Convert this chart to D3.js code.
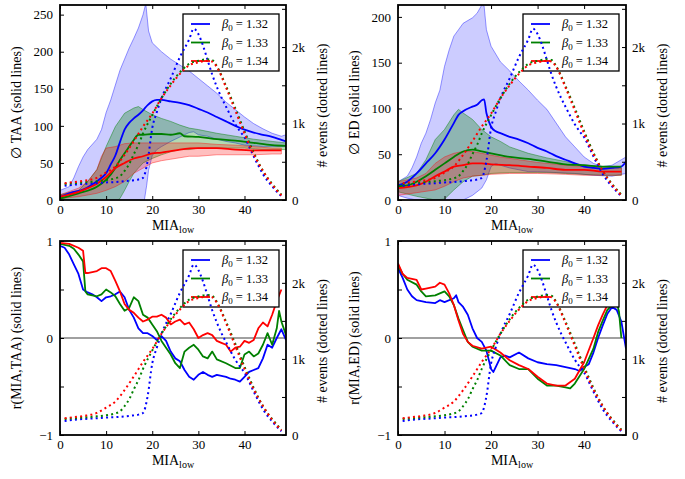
<!DOCTYPE html>
<html><head><meta charset="utf-8">
<script src="https://cdn.jsdelivr.net/npm/d3@7"></script>
<style>
body{margin:0;background:#fff}
svg{display:block}
text{font-family:"Liberation Serif","Times New Roman",serif;fill:#000}
</style>
</head><body>
<svg id="c" width="685" height="479"></svg>
<script>
// ---------- data ----------
const betaLabels = ["1.32", "1.33", "1.34"];
const seriesColors = ["#0000ff", "#008000", "#ff0000"];
const xTicks = [0, 10, 20, 30, 40];
const eventTicks = [0, 500, 1000, 1500, 2000, 2500];
const eventTickLabels = ["0", "", "1k", "", "2k", ""];
const meanTicks = { taa: [0, 50, 100, 150, 200, 250], ed: [0, 50, 100, 150, 200] };
const rTicks = [-1, -0.5, 0, 0.5, 1];
const rTickLabels = ["\u22121", "", "0", "", "1"];

// number of events per MIA_low (dotted lines, right axis)
const events132 = [[1,185],[3,200],[5,210],[8,220],[10,230],[12,235],[14,245],[16,258],[17,268],[18,290],[19,510],[20,940],[21,1150],[22,1330],[24,1590],[26,1870],[28,2100],[29,2240],[30,2170],[31,2020],[32,1830],[33,1640],[34,1480],[35,1340],[36,1220],[37,1100],[38,990],[39,900],[40,820],[41,700],[42,570],[43,450],[44,340],[45,250],[46,180],[47,110],[48,50]];
const events133 = [[1,210],[3,220],[5,230],[8,245],[10,260],[12,285],[13,310],[14,380],[15,470],[16,600],[17,720],[18,870],[20,1110],[22,1330],[24,1520],[26,1670],[28,1780],[30,1820],[32,1840],[33,1830],[34,1750],[36,1490],[38,1200],[40,900],[42,620],[44,380],[46,210],[48,70]];
const events134 = [[1,220],[3,235],[5,250],[8,290],[10,360],[12,440],[14,590],[16,770],[18,960],[20,1130],[22,1330],[24,1500],[26,1650],[28,1760],[30,1800],[32,1820],[33,1810],[34,1740],[36,1470],[38,1170],[40,870],[42,600],[44,380],[46,200],[48,60]];

// mean TAA with band
const taaMean132 = [[0,4.5],[3,11],[5,14],[7,21],[9,30],[10,36],[11,48],[12,60],[13,78],[14,95],[15,104],[16,110],[17,115],[18,121],[19,128],[20,133],[21,135],[22,135],[24,133],[26,131],[28,128],[30,123],[32,118],[34,112],[36,106],[38,100],[40,95],[42,91],[44,88],[46,85],[48,81],[49,79]];
const taaUpper132 = [[0,13],[2,18],[3,30],[4,45],[5,58],[6,68],[8,82],[9,95],[10,118],[11,135],[12,155],[13,175],[14,190],[15,205],[16,218],[17,232],[18,250],[18.6,265],[19.2,228],[20,212],[22,200],[24,190],[26,182],[28,174],[30,164],[32,154],[34,144],[36,132],[38,122],[40,112],[42,103],[44,96],[46,90],[48,86],[49,88]];
const taaLower132 = [[0,0],[18.3,0],[18.8,20],[19.2,40],[20,60],[21,68],[22,72],[24,79],[26,85],[28,91],[29,92],[30,88],[32,86],[34,82],[36,79],[38,77],[40,74],[44,72],[49,72]];
const taaMean133 = [[0,2],[4,9],[8,18],[10,27],[12,43],[13,54],[14,63],[15,72],[16,81],[17,88],[18,88],[20,89],[22,89],[24,88],[26,90],[27,86],[30,85],[34,82],[38,80],[42,77],[46,74],[49,73]];
const taaUpper133 = [[0,7],[4,13],[6,25],[8,41],[10,72],[12,99],[14,117],[16,124],[17,126],[18,122],[20,115],[22,110],[24,106],[26,101],[28,97],[30,95],[34,90],[38,86],[42,82],[46,79],[49,77]];
const taaLower133 = [[0,0],[12.5,0],[13,2],[14,13],[15,25],[16,36],[17,43],[18,50],[20,56],[22,61],[24,65],[26,68],[28,68],[30,70],[34,70],[40,70],[44,68],[49,68]];
const taaMean134 = [[0,4.5],[4,11],[6,16],[8,22],[10,31],[12,43],[14,50],[16,56],[18,59],[20,63],[22,64],[24,66],[26,68],[30,70],[34,70],[38,68],[42,67],[46,67],[48,67]];
const taaUpper134 = [[0,7],[4,16],[6,25],[8,41],[9,59],[10,70],[12,72],[14,76],[16,77],[20,77],[24,77],[30,77],[34,75],[38,74],[42,72],[46,70],[48,70]];
const taaLower134 = [[0,2],[4,4.5],[8,9],[10,13],[12,18],[14,25],[16,36],[18,43],[20,50],[22,53],[24,55],[26,57],[28,59],[30,59],[34,61],[42,61],[46,62],[48,62]];

// mean ED with band
const edMean132 = [[0,16],[2,20],[4,29],[6,40],[8,51],[10,66],[12,84],[13,93],[14,97],[16,102],[17,104],[18,109],[18.5,110],[19,95],[20,80],[21,75],[22,73],[24,69],[26,66],[28,62],[30,57],[32,53],[34,48],[36,44],[38,40],[40,36.5],[42,35],[44,34],[46,35],[48,36.5],[49,42]];
const edUpper132 = [[0,20],[2,26],[3,35],[4,47],[5,62],[6,73],[7,88],[8,106],[9,120],[10,146],[11,164],[12,179],[13,186],[14,193],[16,199],[17,204],[18,213],[18.5,212],[19,186],[20,168],[22,151],[24,141],[26,130],[28,120],[30,109],[32,99],[34,84],[36,69],[38,58],[40,47],[42,40],[44,36.5],[46,38],[48,44],[49,47]];
const edLower132 = [[0,5],[2,2],[4,0],[14,0],[16,5],[18,13],[19,22],[20,36.5],[21,40],[22,38],[24,35],[26,33],[28,31],[30,31],[34,30],[38,29],[42,27],[46,26],[49,29]];
const edMean133 = [[0,15],[2,16],[4,20],[6,26],[8,33],[10,40],[12,47],[14,53],[16,55],[18,53],[20,51],[24,47],[28,45],[32,42],[36,39],[40,38],[44,36.5],[48,36.5]];
const edUpper133 = [[0,20],[4,29],[6,44],[8,66],[10,77],[12,93],[13,99],[14,95],[16,88],[18,77],[20,69],[22,64],[24,58],[28,51],[32,46],[36,42],[40,38],[44,36.5],[48,35]];
const edLower133 = [[0,9],[4,4],[6,2],[8,0],[10,1],[12,11],[14,20],[16,26],[18,27],[20,29],[24,30],[32,30],[36,29],[40,28],[44,27],[48,27]];
const edMean134 = [[0,13],[4,16],[6,20],[8,26],[10,31],[12,36.5],[14,38],[16,40],[18,40],[20,39],[24,38],[28,36.5],[32,35],[36,33],[40,33],[44,31],[48,31]];
const edUpper134 = [[0,20],[4,24],[6,29],[8,40],[10,47],[12,51],[14,53],[16,53],[18,51],[22,47],[26,44],[30,41],[36,38],[40,36.5],[44,35],[48,35]];
const edLower134 = [[0,5],[4,8],[8,11],[10,15],[12,20],[14,24],[16,26],[20,28],[24,29],[30,29],[36,28],[40,27],[48,27]];

// correlation r(MIA,TAA)
const rTaa132 = [[0,0.95],[1,0.93],[2,0.86],[3,0.76],[4,0.66],[5,0.50],[6,0.47],[7,0.45],[8,0.42],[9,0.38],[10,0.42],[11,0.43],[12,0.45],[13,0.48],[14,0.42],[15,0.29],[16,0.21],[17,0.10],[18,0.05],[19,0.05],[20,0.02],[21,-0.02],[22,0.02],[23,-0.03],[24,-0.14],[25,-0.21],[26,-0.24],[27,-0.33],[28,-0.40],[29,-0.43],[30,-0.38],[31,-0.35],[32,-0.38],[33,-0.40],[34,-0.38],[35,-0.39],[36,-0.40],[37,-0.42],[38,-0.43],[39,-0.45],[40,-0.40],[41,-0.35],[42,-0.33],[43,-0.31],[44,-0.21],[45,-0.07],[46,-0.10],[47,0.0],[48,0.09],[49,-0.02]];
const rTaa133 = [[0,0.97],[2,0.95],[3,0.92],[4,0.86],[5,0.79],[5.5,0.48],[6,0.45],[8,0.43],[9,0.45],[10,0.50],[11,0.47],[12,0.43],[13,0.35],[14,0.28],[15,0.31],[16,0.42],[17,0.38],[18,0.24],[19,0.21],[20,0.14],[21,0.07],[22,-0.03],[23,-0.10],[24,-0.17],[25,-0.26],[26,-0.31],[27,-0.14],[28,-0.10],[29,-0.07],[30,-0.12],[31,-0.19],[32,-0.21],[33,-0.14],[34,-0.22],[36,-0.26],[38,-0.31],[39,-0.31],[40,-0.17],[41,-0.14],[42,-0.19],[43,-0.16],[44,-0.07],[45,0.05],[46,-0.07],[47,0.10],[47.5,0.28],[48,0.17],[49,0.03]];
const rTaa134 = [[0,0.98],[2,0.97],[4,0.93],[5,0.90],[5.5,0.67],[6,0.67],[8,0.69],[9,0.72],[10,0.72],[11,0.69],[12,0.59],[13,0.48],[14,0.35],[15,0.29],[16,0.26],[17,0.21],[18,0.17],[19,0.19],[20,0.22],[21,0.22],[22,0.24],[23,0.21],[24,0.14],[25,0.17],[26,0.19],[27,0.14],[28,0.16],[29,0.09],[30,0.0],[31,0.03],[32,0.05],[33,0.03],[34,-0.03],[35,-0.05],[36,-0.07],[37,-0.14],[38,-0.10],[39,-0.09],[40,-0.03],[41,-0.05],[42,-0.02],[43,0.10],[44,0.16],[45,0.12],[46,0.24],[47,0.38],[48,0.50]];

// correlation r(MIA,ED)
const rEd132 = [[0,0.72],[1,0.62],[2,0.50],[3,0.43],[4,0.39],[6,0.37],[8,0.36],[9,0.39],[10,0.37],[12,0.41],[12.5,0.44],[13,0.37],[14,0.32],[15,0.24],[16,0.10],[17,0.0],[18,-0.04],[19,-0.13],[20,-0.32],[20.5,-0.35],[21,-0.30],[22,-0.20],[23,-0.18],[24,-0.20],[26,-0.15],[28,-0.21],[30,-0.25],[32,-0.27],[34,-0.28],[36,-0.30],[38,-0.32],[39,-0.34],[40,-0.30],[41,-0.27],[42,-0.15],[43,0.0],[44,0.13],[45,0.25],[46,0.32],[47,0.29],[48,0.17],[48.5,0.03],[49,-0.11]];
const rEd133 = [[0,0.75],[1,0.66],[2,0.60],[4,0.55],[5,0.48],[6,0.43],[8,0.44],[10,0.48],[11,0.43],[12,0.34],[13,0.20],[14,0.08],[15,-0.04],[16,-0.09],[18,-0.13],[20,-0.13],[22,-0.18],[24,-0.28],[26,-0.32],[28,-0.32],[30,-0.42],[32,-0.49],[34,-0.49],[36,-0.51],[37,-0.52],[38,-0.47],[40,-0.32],[42,-0.11],[43,0.06],[44,0.18],[45,0.29],[46,0.34],[47,0.37],[47.5,0.27],[48,0.0]];
const rEd134 = [[0,0.77],[1,0.66],[2,0.62],[4,0.60],[5,0.50],[6,0.51],[8,0.53],[9,0.57],[10,0.55],[11,0.46],[12,0.34],[13,0.18],[14,0.04],[15,-0.04],[16,-0.08],[18,-0.11],[20,-0.09],[22,-0.15],[24,-0.23],[26,-0.28],[28,-0.32],[30,-0.40],[32,-0.47],[34,-0.49],[36,-0.49],[38,-0.42],[40,-0.25],[42,0.0],[43,0.13],[44,0.24],[45,0.34],[46,0.39],[47,0.45]];

// ---------- layout ----------
const svg = d3.select("#c");
const defs = svg.append("defs");
const xDomain = [0, 49];
const eventDomain = [0, 2550];
const eventsAll = [events132, events133, events134];

const panels = [
  { id: "p1", left: 60, top: 5, width: 226, height: 195, yDomain: [0, 263],
    yTicks: meanTicks.taa, yTickLabels: meanTicks.taa.map(String),
    ylabel: "\u2205 TAA (solid lines)",
    means: [taaMean132, taaMean133, taaMean134],
    bands: [[taaUpper132, taaLower132], [taaUpper133, taaLower133], [taaUpper134, taaLower134]] },
  { id: "p2", left: 398, top: 5, width: 228, height: 195, yDomain: [0, 213],
    yTicks: meanTicks.ed, yTickLabels: meanTicks.ed.map(String),
    ylabel: "\u2205 ED (solid lines)",
    means: [edMean132, edMean133, edMean134],
    bands: [[edUpper132, edLower132], [edUpper133, edLower133], [edUpper134, edLower134]] },
  { id: "p3", left: 60, top: 241, width: 226, height: 194, yDomain: [-1, 1],
    yTicks: rTicks, yTickLabels: rTickLabels,
    ylabel: "r(MIA,TAA) (solid lines)",
    means: [rTaa132, rTaa133, rTaa134], zeroLine: true },
  { id: "p4", left: 398, top: 241, width: 228, height: 194, yDomain: [-1, 1],
    yTicks: rTicks, yTickLabels: rTickLabels,
    ylabel: "r(MIA,ED) (solid lines)",
    means: [rEd132, rEd133, rEd134], zeroLine: true }
];

const bandFill = ["rgba(0,0,255,0.2)", "rgba(0,128,0,0.3)", "rgba(255,0,0,0.25)"];
const bandEdge = ["rgba(0,0,255,0.4)", "rgba(0,128,0,0.45)", "rgba(255,0,0,0.4)"];

function drawPanel(p) {
  const g = svg.append("g");
  const x = d3.scaleLinear().domain(xDomain).range([p.left, p.left + p.width]);
  const y = d3.scaleLinear().domain(p.yDomain).range([p.top + p.height, p.top]);
  const y2 = d3.scaleLinear().domain(eventDomain).range([p.top + p.height, p.top]);

  defs.append("clipPath").attr("id", "clip-" + p.id)
    .append("rect").attr("x", p.left).attr("y", p.top).attr("width", p.width).attr("height", p.height);
  const plot = g.append("g").attr("clip-path", "url(#clip-" + p.id + ")");

  const line = d3.line().x(d => x(d[0])).y(d => y(d[1]));
  const smooth = d3.line().x(d => x(d[0])).y(d => y(d[1])).curve(d3.curveMonotoneX);

  if (p.bands) {
    p.bands.forEach((b, i) => {
      const poly = b[0].concat(b[1].slice().reverse());
      plot.append("path").attr("d", line(poly) + "Z")
        .attr("fill", bandFill[i]).attr("stroke", bandEdge[i]).attr("stroke-width", 1);
    });
  }
  if (p.zeroLine) {
    plot.append("line").attr("x1", p.left).attr("x2", p.left + p.width)
      .attr("y1", y(0)).attr("y2", y(0)).attr("stroke", "#808080").attr("stroke-width", 1.5);
  }
  p.means.forEach((m, i) => {
    plot.append("path").attr("d", (p.bands ? smooth : line)(m))
      .attr("fill", "none").attr("stroke", seriesColors[i]).attr("stroke-width", 1.8)
      .attr("stroke-linejoin", "round");
  });

  // legend (belongs to the solid-line axes)
  const lg = g.append("g").attr("transform", `translate(${p.left + p.width - 103},${p.top + 9})`);
  lg.append("rect").attr("x", 0).attr("y", 0).attr("width", 96).attr("height", 57)
    .attr("fill", "#fff").attr("stroke", "#000").attr("stroke-width", 1.3);
  betaLabels.forEach((lab, i) => {
    const ry = 10 + i * 18.5;
    lg.append("line").attr("x1", 8).attr("x2", 27).attr("y1", ry).attr("y2", ry)
      .attr("stroke", seriesColors[i]).attr("stroke-width", 1.8);
    const t = lg.append("text").attr("x", 39).attr("y", ry + 4).attr("font-size", 12.5);
    t.append("tspan").attr("font-style", "italic").text("\u03B2");
    t.append("tspan").attr("font-size", 9).attr("dy", 3).text("0");
    t.append("tspan").attr("dy", -3).text(" = " + lab);
  });

  // dotted event counts (twin axes, drawn on top)
  const ev = g.append("g").attr("clip-path", "url(#clip-" + p.id + ")");
  const evLine = d3.line().x(d => x(d[0])).y(d => y2(d[1])).curve(d3.curveMonotoneX);
  eventsAll.forEach((e, i) => {
    ev.append("path").attr("d", evLine(e)).attr("fill", "none")
      .attr("stroke", seriesColors[i]).attr("stroke-width", 2)
      .attr("stroke-dasharray", "2,3.2");
  });

  // axes with inward ticks
  const axB = d3.axisBottom(x).tickValues(xTicks).tickSizeInner(-4).tickSizeOuter(0).tickPadding(5);
  const axT = d3.axisTop(x).tickValues(xTicks).tickSizeInner(-4).tickSizeOuter(0).tickFormat("");
  const axL = d3.axisLeft(y).tickValues(p.yTicks).tickSizeInner(-4).tickSizeOuter(0).tickPadding(7)
    .tickFormat((d, i) => p.yTickLabels[i]);
  const axR = d3.axisRight(y2).tickValues(eventTicks).tickSizeInner(-4).tickSizeOuter(0).tickPadding(6)
    .tickFormat((d, i) => eventTickLabels[i]);
  const styleAxis = sel => {
    sel.select(".domain").remove();
    sel.selectAll("line").attr("stroke", "#000").attr("stroke-width", 1);
    sel.selectAll("text").attr("font-size", 13).attr("font-family", "'Liberation Serif',serif");
  };
  g.append("g").attr("transform", `translate(0,${p.top + p.height})`).call(axB).call(styleAxis);
  g.append("g").attr("transform", `translate(0,${p.top})`).call(axT).call(styleAxis);
  g.append("g").attr("transform", `translate(${p.left},0)`).call(axL).call(styleAxis);
  g.append("g").attr("transform", `translate(${p.left + p.width},0)`).call(axR).call(styleAxis);

  g.append("rect").attr("x", p.left).attr("y", p.top).attr("width", p.width).attr("height", p.height)
    .attr("fill", "none").attr("stroke", "#000").attr("stroke-width", 1.8);

  // axis labels
  const cx = p.left + p.width / 2;
  const xl = g.append("text").attr("x", cx).attr("y", p.top + p.height + 30)
    .attr("text-anchor", "middle").attr("font-size", 14);
  xl.append("tspan").text("MIA");
  xl.append("tspan").attr("font-size", 10).attr("dy", 3).text("low");

  const cy = p.top + p.height / 2;
  g.append("text").attr("transform", `translate(${p.left - 44},${cy}) rotate(-90)`)
    .attr("text-anchor", "middle").attr("dominant-baseline", "central").attr("font-size", 14)
    .text(p.ylabel);
  g.append("text").attr("transform", `translate(${p.left + p.width + 36},${cy + 3}) rotate(-90)`)
    .attr("text-anchor", "middle").attr("dominant-baseline", "central").attr("font-size", 14)
    .text("# events (dotted lines)");
}

panels.forEach(drawPanel);
</script>
</body></html>
